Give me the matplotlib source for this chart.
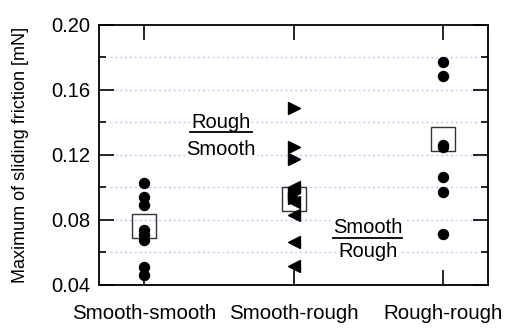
import matplotlib
matplotlib.use("Agg")
import matplotlib.pyplot as plt
from matplotlib.ticker import MultipleLocator

plt.rcParams['font.family'] = ['Liberation Sans', 'DejaVu Sans']

categories = ["Smooth-smooth", "Smooth-rough", "Rough-rough"]
ss_values = [0.1026, 0.0939, 0.0888, 0.0734, 0.0703, 0.0676, 0.0511, 0.0462]
sr_rough_smooth = [0.1485, 0.1248, 0.1176, 0.0962, 0.0931]
sr_smooth_rough = [0.1000, 0.0907, 0.0826, 0.0661, 0.0517]
rr_values = [0.1773, 0.1685, 0.1259, 0.1245, 0.1063, 0.0970, 0.0713]
box_values = [0.0760, 0.0929, 0.1298]
yticks = [0.04, 0.08, 0.12, 0.16, 0.20]

fig = plt.figure(figsize=(5.10, 3.29), dpi=100)
ax = fig.add_axes([0.194, 0.1347, 0.763, 0.79])

xs = [1, 2, 3]
ax.plot([xs[0]] * len(ss_values), ss_values, 'o', color='black', ms=7.2, zorder=4)
ax.plot([xs[1]] * len(sr_rough_smooth), sr_rough_smooth, '>', color='black', ms=8, zorder=4)
ax.plot([xs[1]] * len(sr_smooth_rough), sr_smooth_rough, '<', color='black', ms=8, zorder=4)
ax.plot([xs[2]] * len(rr_values), rr_values, 'o', color='black', ms=7.2, zorder=4)
ax.plot(xs, box_values, 's', mfc='none', mec='#333333', mew=1.0, ms=17, zorder=3)

ax.set_xlim(0.7, 3.3)
ax.set_ylim(0.04, 0.20)
ax.set_xticks(xs)
ax.set_xticklabels(categories, fontsize=14.8)
ax.set_yticks(yticks)
ax.set_yticklabels([f"{v:.2f}" for v in yticks], fontsize=14.5)
ax.yaxis.set_minor_locator(MultipleLocator(0.02))

for v in [0.06, 0.08, 0.10, 0.12, 0.14, 0.16, 0.18]:
    ax.axhline(v, xmin=0.028, xmax=0.977, color='#c4c4ff', lw=1.0,
               ls=(0, (1.5, 2.0)), zorder=1)

ax.tick_params(axis='x', which='both', direction='in', top=True, bottom=True,
               length=11, width=1.2, pad=14)
ax.tick_params(axis='y', which='major', direction='in', left=True, right=True,
               length=11, width=1.2, pad=6)
ax.tick_params(axis='y', which='minor', direction='in', left=True, right=True,
               length=5, width=1.2)
for s in ax.spines.values():
    s.set_linewidth(1.3)

ax.set_ylabel("Maximum of sliding friction [mN]", fontsize=13, labelpad=16)

bb = dict(facecolor='white', edgecolor='none', pad=1)
ax.text(1.515, 0.1365, "Rough", ha='center', va='baseline', fontsize=14.5, zorder=5, bbox=bb)
ax.text(1.515, 0.1199, "Smooth", ha='center', va='baseline', fontsize=14.5, zorder=5, bbox=bb)
ax.plot([1.308, 1.722], [0.1338, 0.1338], color='black', lw=1.3, zorder=6)

ax.text(2.495, 0.0718, "Smooth", ha='center', va='baseline', fontsize=14.5, zorder=5, bbox=bb)
ax.text(2.495, 0.0572, "Rough", ha='center', va='baseline', fontsize=14.5, zorder=5, bbox=bb)
ax.plot([2.264, 2.725], [0.0689, 0.0689], color='black', lw=1.3, zorder=6)

fig.savefig("out.png", dpi=100)
